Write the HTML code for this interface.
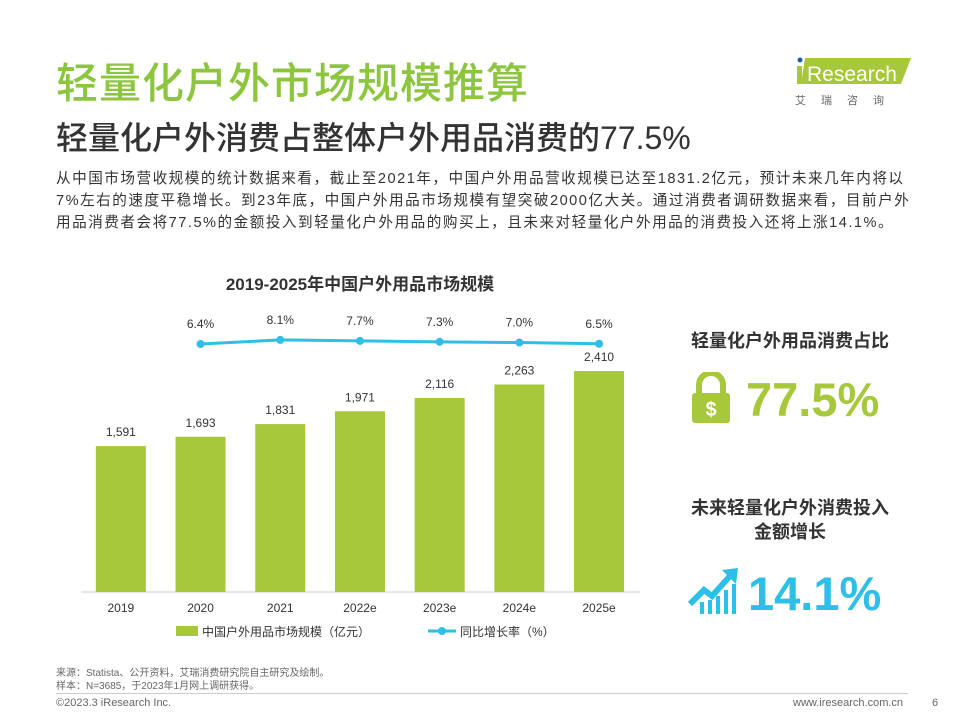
<!DOCTYPE html>
<html><head><meta charset="utf-8"><style>
body{margin:0;width:960px;height:720px;background:#fff;font-family:"Liberation Sans","Noto Sans CJK SC",sans-serif;position:relative;overflow:hidden}
.a{position:absolute;margin:0}
</style></head><body>
<h1 class="a" style="left:56px;top:50px;font-size:42px;font-weight:500;color:#8cc63f;letter-spacing:1px;white-space:nowrap">轻量化户外市场规模推算</h1>
<h2 class="a" style="left:56px;top:113px;font-size:32px;font-weight:500;color:#333;white-space:nowrap">轻量化户外消费占整体户外用品消费的77.5%</h2>
<div class="a" style="left:793px;top:48px;width:120px;height:60px">
<svg width="120" height="60"><polygon points="12,10 118,10 108,36 8,36" fill="#a6c83a"/><circle cx="7" cy="12" r="2.5" fill="#1b5fa8"/><rect x="4" y="18" width="5" height="18" fill="#a6c83a"/><text x="14" y="33" font-size="21" fill="#fff" font-family="Liberation Sans">Research</text><text x="2" y="56" font-size="11" fill="#666" letter-spacing="15">艾瑞咨询</text></svg></div>
<p class="a" style="left:56px;top:168px;width:880px;font-size:14.6px;line-height:22px;color:#333;white-space:nowrap;letter-spacing:1.5px">从中国市场营收规模的统计数据来看，截止至2021年，中国户外用品营收规模已达至1831.2亿元，预计未来几年内将以<br>7%左右的速度平稳增长。到23年底，中国户外用品市场规模有望突破2000亿大关。通过消费者调研数据来看，目前户外<br>用品消费者会将77.5%的金额投入到轻量化户外用品的购买上，且未来对轻量化户外用品的消费投入还将上涨14.1%。</p>
<div class="a" style="left:80px;top:270px;width:560px;text-align:center;font-size:17px;font-weight:bold;color:#333">2019-2025年中国户外用品市场规模</div>
<svg id="chart" class="a" style="left:0;top:0" width="960" height="720"></svg>
<div class="a" style="left:660px;top:327px;width:260px;text-align:center;font-size:18px;font-weight:bold;color:#333">轻量化户外用品消费占比</div>
<svg class="a" style="left:690px;top:372px" width="42" height="52"><path d="M9 22 V13 A12 12 0 0 1 33 13 V22" stroke="#a6c83a" stroke-width="6" fill="none"/><rect x="2" y="21" width="38" height="30" rx="3" fill="#a6c83a"/><text x="21" y="44" text-anchor="middle" font-size="20" font-weight="bold" fill="#fff">$</text></svg>
<div class="a" style="left:746px;top:372px;font-size:47px;font-weight:bold;color:#a6c83a">77.5%</div>
<div class="a" style="left:660px;top:496px;width:260px;text-align:center;font-size:18px;font-weight:bold;line-height:24px;color:#333">未来轻量化户外消费投入<br>金额增长</div>
<svg class="a" style="left:688px;top:566px" width="52" height="48"><polyline points="2,38 16,24 24,30 42,10" stroke="#2ebfe8" stroke-width="6" fill="none"/><polygon points="34,4 50,2 48,18" fill="#2ebfe8"/><rect x="12" y="36" width="4" height="12" fill="#2ebfe8"/><rect x="20" y="34" width="4" height="14" fill="#2ebfe8"/><rect x="28" y="30" width="4" height="18" fill="#2ebfe8"/><rect x="36" y="24" width="4" height="24" fill="#2ebfe8"/><rect x="44" y="18" width="4" height="30" fill="#2ebfe8"/></svg>
<div class="a" style="left:748px;top:566px;font-size:47px;font-weight:bold;color:#2ebfe8">14.1%</div>
<div class="a" style="left:56px;top:667px;font-size:10px;line-height:13px;color:#666">来源：Statista、公开资料，艾瑞消费研究院自主研究及绘制。<br>样本：N=3685，于2023年1月网上调研获得。</div>
<div class="a" style="left:56px;top:693px;width:852px;border-top:1px solid #ccc"></div>
<div class="a" style="left:56px;top:697px;font-size:11px;color:#666">©2023.3 iResearch Inc.</div>
<div class="a" style="left:793px;top:697px;font-size:11px;color:#666">www.iresearch.com.cn</div>
<div class="a" style="left:932px;top:697px;font-size:11px;color:#666">6</div>
<script>
const categories=["2019","2020","2021","2022e","2023e","2024e","2025e"];
const marketSize=[1591,1693,1831,1971,2116,2263,2410];
const sizeLabels=["1,591","1,693","1,831","1,971","2,116","2,263","2,410"];
const growthRate=[6.4,8.1,7.7,7.3,7.0,6.5];
const growthLabels=["6.4%","8.1%","7.7%","7.3%","7.0%","6.5%"];
const NS="http://www.w3.org/2000/svg";
const svg=document.getElementById('chart');
const x0=81,step=79.7,base=592;
const xc=i=>x0+step*(i+0.5);
const yb=v=>base-v*0.0917;
const yr=r=>344-(r-6.4)*2.4;
function mk(t,a){const e=document.createElementNS(NS,t);for(const k in a)e.setAttribute(k,a[k]);svg.appendChild(e);return e;}
const ax=mk('line',{x1:81,x2:640,y1:base,y2:base,stroke:'#ccc'});


marketSize.forEach((v,i)=>{
 const r=mk('rect',{x:xc(i)-25,y:yb(v),width:50,height:base-yb(v),fill:'#a6c83a'});
 
 
 const t=mk('text',{x:xc(i),y:yb(v)-10,'text-anchor':'middle','font-size':12,fill:'#333'});t.textContent=sizeLabels[i];
 
 
 const c=mk('text',{x:xc(i),y:base+20,'text-anchor':'middle','font-size':12,fill:'#333'});c.textContent=categories[i];
 
 
});
const pts=growthRate.map((r,i)=>[xc(i+1),yr(r)]);
const pl=mk('polyline',{points:pts.map(p=>p.join(',')).join(' '),fill:'none',stroke:'#2ebfe8','stroke-width':3});


growthRate.forEach((r,i)=>{
 const p=pts[i];
 const c=mk('circle',{cx:p[0],cy:p[1],r:4,fill:'#2ebfe8'});
 
 
 const t=mk('text',{x:p[0],y:p[1]-16,'text-anchor':'middle','font-size':12,fill:'#333'});t.textContent=growthLabels[i];
 
 
});
const lg1=mk('rect',{x:176,y:626,width:22,height:10,fill:'#a6c83a'});


const lt1=mk('text',{x:202,y:636,'font-size':12,fill:'#333'});lt1.textContent='中国户外用品市场规模（亿元）';


const lg2=mk('line',{x1:428,x2:456,y1:631,y2:631,stroke:'#2ebfe8','stroke-width':3});


const lc=mk('circle',{cx:442,cy:631,r:4,fill:'#2ebfe8'});


const lt2=mk('text',{x:460,y:636,'font-size':12,fill:'#333'});lt2.textContent='同比增长率（%）';


</script>
</body></html>
